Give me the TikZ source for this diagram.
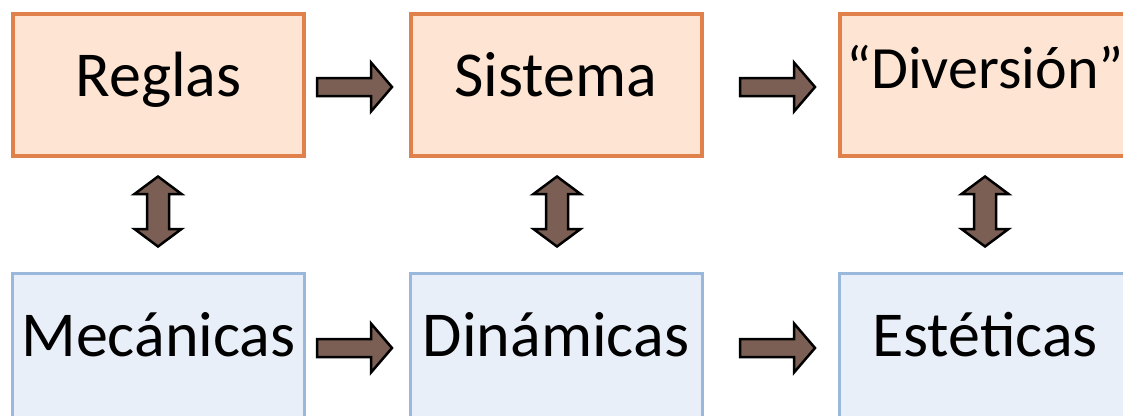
\documentclass[tikz,border=0pt]{standalone}
\usepackage{fontspec}
\setmainfont{Carlito}
\definecolor{orgline}{HTML}{E0804A}
\definecolor{orgfill}{HTML}{FDE4D3}
\definecolor{blueline}{HTML}{99B8DC}
\definecolor{bluefill}{HTML}{E9EFF8}
\definecolor{arrfill}{HTML}{7B5F54}
\tikzset{
  topbox/.style={draw=orgline, fill=orgfill, line width=4pt, minimum width=291pt, minimum height=142pt, inner sep=0pt, font=\fontsize{64}{70}\selectfont, text height=40pt, text depth=18pt},
  botbox/.style={draw=blueline, fill=bluefill, line width=3pt, minimum width=292pt, minimum height=144pt, inner sep=0pt, font=\fontsize{64}{70}\selectfont, text height=40pt, text depth=18pt},
  blk/.style={draw=black, fill=arrfill, line width=2.5pt, line join=miter},
  rarr/.pic={\path[blk] (-38,-9) -- (16,-9) -- (16,-24.5) -- (37,0) -- (16,24.5) -- (16,9) -- (-38,9) -- cycle;},
  varr/.pic={\path[blk] (-11,-17.5) -- (-23.5,-17.5) -- (0,-35) -- (23.5,-17.5) -- (11,-17.5) -- (11,17.5) -- (23.5,17.5) -- (0,35) -- (-23.5,17.5) -- (-11,17.5) -- cycle;}
}
\begin{document}
\begin{tikzpicture}[x=1pt, y=-1pt]
\useasboundingbox (0,0) rectangle (1123,415);
\clip (0,0) rectangle (1123,415);
\node[topbox] (reglas) at (158.5,85) {Reglas};
\node[topbox] (sistema) at (556,85) {Sistema};
\node[topbox, font=\fontsize{60}{66}\selectfont, text height=40pt, text depth=34pt] (diversion) at (985,85) {“Diversión”};
\node[botbox] (mecanicas) at (158.5,345) {Mecánicas};
\node[botbox] (dinamicas) at (556,345) {Dinámicas};
\node[botbox] (esteticas) at (985,345) {Estéticas};
\coordinate (a1) at (355,87);
\coordinate (a2) at (778,87);
\coordinate (a3) at (355,348);
\coordinate (a4) at (778,348);
\coordinate (v1) at (158,211.5);
\coordinate (v2) at (557,211.5);
\coordinate (v3) at (985,211.5);
\pic at (a1) {rarr};
\pic at (a2) {rarr};
\pic at (a3) {rarr};
\pic at (a4) {rarr};
\pic at (v1) {varr};
\pic at (v2) {varr};
\pic at (v3) {varr};
\end{tikzpicture}
\end{document}
